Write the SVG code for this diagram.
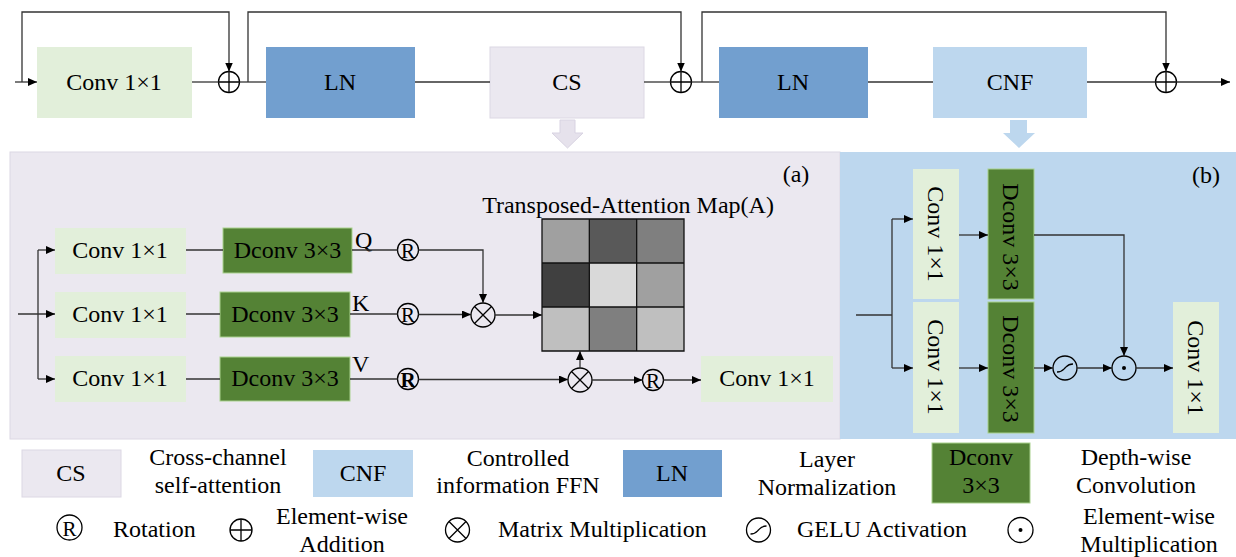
<svg xmlns="http://www.w3.org/2000/svg" width="1236" height="557" viewBox="0 0 1236 557">
<defs>
<marker id="ah" markerUnits="userSpaceOnUse" markerWidth="10" markerHeight="9" refX="9" refY="4" orient="auto">
<path d="M0,0 L9,4 L0,8 z" fill="#000"/>
</marker>
<style>
.t{font-family:"Liberation Serif","Times New Roman",serif;font-size:24px;fill:#000;text-anchor:middle}
.tl{font-family:"Liberation Serif","Times New Roman",serif;font-size:24px;fill:#000}
.r{font-family:"Liberation Serif","Times New Roman",serif;font-size:21px;fill:#000;text-anchor:middle}
.ln{fill:none;stroke:#333;stroke-width:1.3}
.ar{fill:none;stroke:#333;stroke-width:1.3;marker-end:url(#ah)}
.sym{fill:none;stroke:#000;stroke-width:1.3}
.conv{fill:#e2efda}
.lnb{fill:#729fcf}
.cs{fill:#ebe8f0;stroke:#dcd8e4;stroke-width:1}
.cnf{fill:#bdd7ee}
.dc{fill:#548235;stroke:#a9d18e;stroke-width:1}
</style>
</defs>

<!-- panels -->
<rect id="panel-a" x="10" y="152" width="830" height="287" fill="#ebe8f0" stroke="#dcd8e4" stroke-width="1"/>
<rect id="panel-b" x="840" y="152" width="396" height="287" fill="#bdd7ee"/>

<!-- big arrows -->
<polygon id="arrow-cs" points="560,120 575,120 575,133 583,133 567.5,148 552,133 560,133" fill="#e6e2ec" stroke="#d8d3e2" stroke-width="1"/>
<polygon id="arrow-cnf" points="1010,120 1027,120 1027,133 1035,133 1019,148 1003,133 1010,133" fill="#bdd7ee"/>

<!-- top row nodes -->
<g id="top-conv"><rect class="conv" x="37" y="47" width="155" height="71"/><text class="t" x="114" y="90">Conv 1×1</text></g>
<g id="top-add1"><circle class="sym" cx="229" cy="82" r="10.5"/><path class="sym" d="M218.5,82 H239.5 M229,71.5 V92.5"/></g>
<g id="top-ln1"><rect class="lnb" x="266" y="47" width="149" height="71"/><text class="t" x="340" y="90">LN</text></g>
<g id="top-cs"><rect class="cs" x="490" y="47" width="154" height="71"/><text class="t" x="567" y="90">CS</text></g>
<g id="top-add2"><circle class="sym" cx="681" cy="82" r="10.5"/><path class="sym" d="M670.5,82 H691.5 M681,71.5 V92.5"/></g>
<g id="top-ln2"><rect class="lnb" x="719" y="47" width="149" height="71"/><text class="t" x="793" y="90">LN</text></g>
<g id="top-cnf"><rect class="cnf" x="933" y="47" width="154" height="71"/><text class="t" x="1010" y="90">CNF</text></g>
<g id="top-add3"><circle class="sym" cx="1166" cy="82" r="10.5"/><path class="sym" d="M1155.5,82 H1176.5 M1166,71.5 V92.5"/></g>

<!-- panel (a) nodes -->
<text id="label-a" class="t" x="796" y="182">(a)</text>
<g id="a-conv-q"><rect class="conv" x="55" y="228" width="131" height="46"/><text class="t" x="120" y="258">Conv 1×1</text></g>
<g id="a-conv-k"><rect class="conv" x="55" y="292" width="131" height="46"/><text class="t" x="120" y="322">Conv 1×1</text></g>
<g id="a-conv-v"><rect class="conv" x="55" y="356" width="131" height="46"/><text class="t" x="120" y="386">Conv 1×1</text></g>
<g id="a-dconv-q"><rect class="dc" x="223" y="228" width="129" height="45"/><text class="t" x="287.5" y="258">Dconv 3×3</text></g>
<g id="a-dconv-k"><rect class="dc" x="220" y="292" width="130" height="45"/><text class="t" x="285" y="322">Dconv 3×3</text></g>
<g id="a-dconv-v"><rect class="dc" x="220" y="357" width="130" height="44"/><text class="t" x="285" y="386">Dconv 3×3</text></g>
<text class="tl" x="355" y="248">Q</text>
<text class="tl" x="352" y="311">K</text>
<text class="tl" x="352" y="372">V</text>
<g id="a-rot-q"><circle class="sym" cx="408" cy="250" r="10.5"/><text class="r" x="408" y="257.5">R</text></g>
<g id="a-rot-k"><circle class="sym" cx="408" cy="314" r="10.5"/><text class="r" x="408" y="321.5">R</text></g>
<g id="a-rot-v"><circle class="sym" cx="408" cy="379" r="10.5"/><text class="r" x="408" y="386.5" font-weight="bold">R</text></g>
<g id="a-mul1"><circle class="sym" cx="483" cy="315" r="12"/><path class="sym" d="M474.5,306.5 L491.5,323.5 M491.5,306.5 L474.5,323.5"/></g>
<g id="a-mul2"><circle class="sym" cx="580" cy="380" r="12"/><path class="sym" d="M571.5,371.5 L588.5,388.5 M588.5,371.5 L571.5,388.5"/></g>
<g id="a-rot-out"><circle class="sym" cx="653" cy="380" r="10.5"/><text class="r" x="653" y="387.5">R</text></g>
<g id="a-conv-out"><rect class="conv" x="701" y="356" width="132" height="46"/><text class="t" x="767" y="386">Conv 1×1</text></g>
<g id="a-attn-map">
<text class="t" x="628" y="213">Transposed-Attention Map(A)</text>
<rect x="542" y="219" width="47.33" height="44" fill="#a0a0a0"/>
<rect x="589.33" y="219" width="47.33" height="44" fill="#595959"/>
<rect x="636.67" y="219" width="47.33" height="44" fill="#7f7f7f"/>
<rect x="542" y="263" width="47.33" height="44" fill="#404040"/>
<rect x="589.33" y="263" width="47.33" height="44" fill="#d9d9d9"/>
<rect x="636.67" y="263" width="47.33" height="44" fill="#a0a0a0"/>
<rect x="542" y="307" width="47.33" height="44" fill="#bfbfbf"/>
<rect x="589.33" y="307" width="47.33" height="44" fill="#7f7f7f"/>
<rect x="636.67" y="307" width="47.33" height="44" fill="#bfbfbf"/>
<path d="M542,219 H684 V351 H542 Z M589.33,219 V351 M636.67,219 V351 M542,263 H684 M542,307 H684" fill="none" stroke="#111" stroke-width="1.3"/>
</g>

<!-- panel (b) nodes -->
<text id="label-b" class="t" x="1206" y="183">(b)</text>
<g id="b-conv1"><rect class="conv" x="913" y="169" width="46" height="130"/><text class="t" transform="translate(936,234) rotate(90)" x="0" y="8">Conv 1×1</text></g>
<g id="b-conv2"><rect class="conv" x="913" y="302" width="46" height="131"/><text class="t" transform="translate(936,367) rotate(90)" x="0" y="8">Conv 1×1</text></g>
<g id="b-dconv1"><rect class="dc" x="988" y="169" width="46" height="130"/><text class="t" transform="translate(1011,237) rotate(90)" x="0" y="8">Dconv 3×3</text></g>
<g id="b-dconv2"><rect class="dc" x="988" y="302" width="46" height="131"/><text class="t" transform="translate(1011,369) rotate(90)" x="0" y="8">Dconv 3×3</text></g>
<g id="b-gelu"><circle class="sym" cx="1065" cy="368" r="12"/><path class="sym" d="M1057,372 C1062,372 1063,370 1065,368 C1067,366 1068,364 1073,364" stroke-width="1"/></g>
<g id="b-emul"><circle class="sym" cx="1124" cy="368" r="12"/><circle cx="1124" cy="368" r="2" fill="#000"/></g>
<g id="b-conv-out"><rect class="conv" x="1173" y="302" width="46" height="131"/><text class="t" transform="translate(1196,368) rotate(90)" x="0" y="8">Conv 1×1</text></g>

<!-- connectors -->
<g id="connectors">
<path class="ar" d="M15,82 H37"/>
<path class="ar" d="M22,82 V12 H229 V71.5"/>
<path class="ln" d="M192,82 H218.5"/>
<path class="ln" d="M239.5,82 H266"/>
<path class="ar" d="M248,82 V12 H681 V71.5"/>
<path class="ln" d="M415,82 H490"/>
<path class="ln" d="M644,82 H670.5"/>
<path class="ln" d="M691.5,82 H719"/>
<path class="ar" d="M702,82 V12 H1166 V71.5"/>
<path class="ln" d="M868,82 H933"/>
<path class="ln" d="M1087,82 H1155.5"/>
<path class="ar" d="M1176.5,82 H1230"/>

<path class="ar" d="M18,314 H55"/>
<path class="ln" d="M38,250 V379"/>
<path class="ar" d="M38,250 H55"/>
<path class="ar" d="M38,379 H55"/>
<path class="ln" d="M186,250 H223"/>
<path class="ln" d="M186,314 H220"/>
<path class="ln" d="M186,379 H220"/>
<path class="ln" d="M352,250 H397.5"/>
<path class="ln" d="M350,314 H397.5"/>
<path class="ln" d="M350,379 H397.5"/>
<path class="ar" d="M418.5,250 H483 V303"/>
<path class="ar" d="M418.5,314.5 H471"/>
<path class="ar" d="M495,315 H542"/>
<path class="ar" d="M418.5,379.5 H568"/>
<path class="ar" d="M580,368 V351"/>
<path class="ar" d="M592,380 H642.5"/>
<path class="ar" d="M663.5,380 H701"/>

<path class="ln" d="M856,315 H892"/>
<path class="ln" d="M892,219 V368"/>
<path class="ar" d="M892,219 H913"/>
<path class="ar" d="M892,368 H913"/>
<path class="ar" d="M959,235 H988"/>
<path class="ar" d="M959,368 H988"/>
<path class="ar" d="M1034,235 H1124 V356"/>
<path class="ar" d="M1034,368 H1053"/>
<path class="ar" d="M1077,368 H1112"/>
<path class="ar" d="M1136,368 H1173"/>
</g>

<!-- legend -->
<g id="legend">
<rect class="cs" x="22" y="450" width="99" height="47"/>
<text class="t" x="71" y="481">CS</text>
<text class="t" x="218" y="465">Cross-channel</text>
<text class="t" x="218" y="493">self-attention</text>
<rect class="cnf" x="313" y="450" width="100" height="47"/>
<text class="t" x="363" y="481">CNF</text>
<text class="t" x="518" y="466">Controlled</text>
<text class="t" x="518" y="493">information FFN</text>
<rect class="lnb" x="623" y="450" width="99" height="47"/>
<text class="t" x="672" y="481">LN</text>
<text class="t" x="827" y="467">Layer</text>
<text class="t" x="827" y="495">Normalization</text>
<rect class="dc" x="932" y="443" width="98" height="60"/>
<text class="t" x="981" y="465">Dconv</text>
<text class="t" x="981" y="493">3×3</text>
<text class="t" x="1136" y="465">Depth-wise</text>
<text class="t" x="1136" y="493">Convolution</text>

<circle class="sym" cx="69.5" cy="527.5" r="12.5"/><text class="r" x="69.5" y="535.5" font-size="23">R</text>
<text class="tl" x="113" y="537">Rotation</text>
<circle class="sym" cx="241" cy="530" r="11"/><path class="sym" d="M230,530 H252 M241,519 V541"/>
<text class="t" x="342" y="524">Element-wise</text>
<text class="t" x="342" y="552">Addition</text>
<circle class="sym" cx="457.5" cy="530" r="12"/><path class="sym" d="M449,521.5 L466,538.5 M466,521.5 L449,538.5"/>
<text class="tl" x="498" y="537">Matrix Multiplication</text>
<circle class="sym" cx="758.5" cy="530" r="12"/><path class="sym" d="M750.5,534 C755.5,534 756.5,532 758.5,530 C760.5,528 761.5,526 766.5,526" stroke-width="1"/>
<text class="tl" x="797" y="537">GELU Activation</text>
<circle class="sym" cx="1020.5" cy="530" r="12.5"/><circle cx="1020.5" cy="530" r="2" fill="#000"/>
<text class="t" x="1149" y="524">Element-wise</text>
<text class="t" x="1149" y="552">Multiplication</text>
</g>
</svg>
